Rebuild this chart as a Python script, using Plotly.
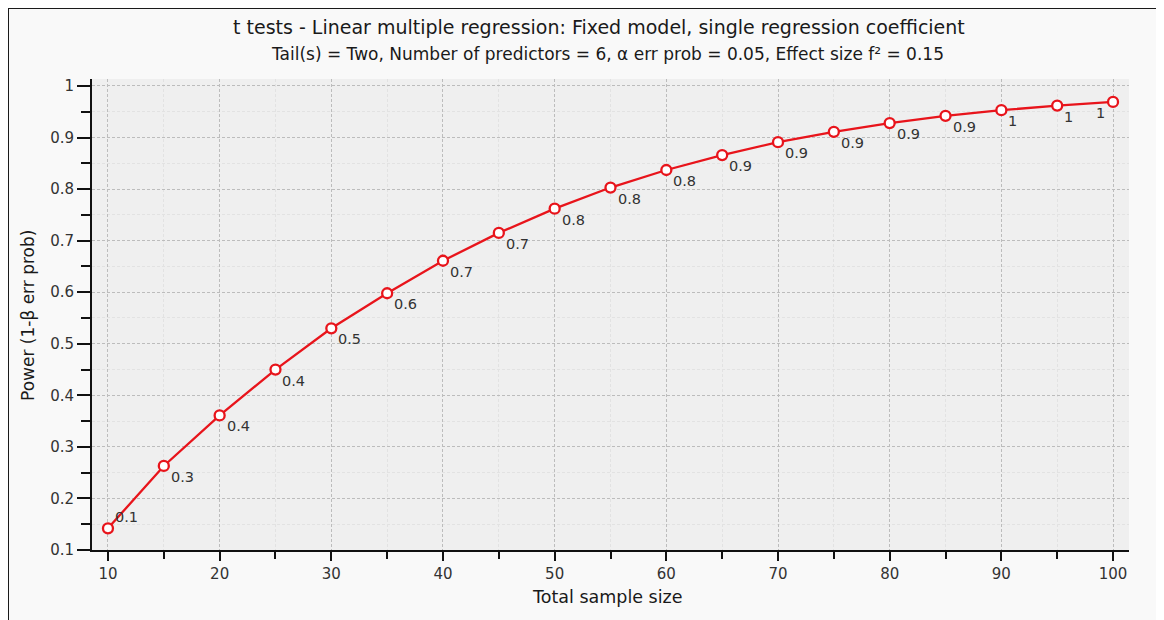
import plotly.graph_objects as go

# ---- data ----
sample_size = [10, 15, 20, 25, 30, 35, 40, 45, 50, 55, 60, 65, 70, 75, 80, 85, 90, 95, 100]
power = [0.142, 0.263, 0.361, 0.450, 0.530, 0.598, 0.661, 0.715, 0.762, 0.803,
         0.837, 0.866, 0.891, 0.911, 0.928, 0.942, 0.953, 0.962, 0.969]
point_labels = ["0.1", "0.3", "0.4", "0.4", "0.5", "0.6", "0.7", "0.7", "0.8", "0.8",
                "0.8", "0.9", "0.9", "0.9", "0.9", "0.9", "1", "1", "1"]
x_tick_vals = [10, 20, 30, 40, 50, 60, 70, 80, 90, 100]
x_tick_text = ["10", "20", "30", "40", "50", "60", "70", "80", "90", "100"]
y_tick_vals = [0.1, 0.2, 0.3, 0.4, 0.5, 0.6, 0.7, 0.8, 0.9, 1.0]
y_tick_text = ["0.1", "0.2", "0.3", "0.4", "0.5", "0.6", "0.7", "0.8", "0.9", "1"]

title_text = "t tests - Linear multiple regression: Fixed model, single regression coefficient"
subtitle_text = "Tail(s) = Two, Number of predictors = 6, α err prob = 0.05, Effect size f² = 0.15"

RED = "#e8141b"
FONT = "DejaVu Sans"
OFF = 8  # page body margin
W, H = 1164 - OFF, 620 - OFF
PL, PR, PT, PB = 92, 1129, 79, 550  # plot area in page pixels
ML, MT = PL - OFF, PT - OFF
MR, MB = W - (PR - OFF), H - (PB - OFF)
PW = W - ML - MR
PH = H - MT - MB

fig = go.Figure()
fig.add_trace(go.Scatter(
    x=sample_size, y=power, mode="lines+markers",
    line=dict(color=RED, width=2.3),
    marker=dict(symbol="circle", size=10, color="white", line=dict(color=RED, width=2.3)),
    hoverinfo="x+y", showlegend=False,
))

n = len(sample_size)
for i, (xv, yv, lab) in enumerate(zip(sample_size, power, point_labels)):
    if i == 0:
        xa, ya, xs, ys = "left", "middle", 5, 11
    elif i == n - 1:
        xa, ya, xs, ys = "right", "middle", -6, -11
    else:
        xa, ya, xs, ys = "left", "middle", 5, -11
    fig.add_annotation(x=xv, y=yv, text=lab, showarrow=False, xanchor=xa, yanchor=ya,
                       xshift=xs, yshift=ys, font=dict(family=FONT, size=14.5, color="#333333"))

def px_x(p):
    return (p - OFF - ML) / PW

def px_y(p):
    return 1 - (p - OFF - MT) / PH

# titles
fig.add_annotation(xref="paper", yref="paper", x=px_x(599), y=px_y(27), text=title_text,
                   showarrow=False, xanchor="center", yanchor="middle",
                   font=dict(family=FONT, size=19, color="#1a1a1a"))
fig.add_annotation(xref="paper", yref="paper", x=px_x(607), y=px_y(54), text=subtitle_text,
                   showarrow=False, xanchor="center", yanchor="middle",
                   font=dict(family=FONT, size=17, color="#1a1a1a"))
fig.add_annotation(xref="paper", yref="paper", x=px_x(607), y=px_y(597), text="Total sample size",
                   showarrow=False, xanchor="center", yanchor="middle",
                   font=dict(family=FONT, size=17.5, color="#1a1a1a"))
fig.add_annotation(xref="paper", yref="paper", x=px_x(28), y=px_y(316), text="Power (1-β err prob)",
                   showarrow=False, xanchor="center", yanchor="middle", textangle=-90,
                   font=dict(family=FONT, size=17, color="#1a1a1a"))

# outer frame
fig.add_shape(type="rect", xref="paper", yref="paper",
              x0=px_x(8), x1=px_x(1200), y0=px_y(660), y1=px_y(8),
              line=dict(color="#1a1a1a", width=2), fillcolor="rgba(0,0,0,0)", layer="below")

fig.update_layout(
    width=W, height=H,
    margin=dict(l=ML, r=MR, t=MT, b=MB),
    paper_bgcolor="#f9f9f9", plot_bgcolor="#efefef",
    font=dict(family=FONT, size=15, color="#333333"),
    xaxis=dict(
        range=[8.57, 101.43], tickvals=x_tick_vals, ticktext=x_tick_text,
        showline=True, linecolor="#111111", linewidth=2, mirror=False,
        ticks="outside", ticklen=9, tickwidth=2, tickcolor="#111111",
        showgrid=True, gridcolor="#bcbcbc", griddash="3px,2px", gridwidth=1,
        zeroline=False,
        minor=dict(tick0=5, dtick=10, ticks="outside", ticklen=7, tickwidth=2, tickcolor="#111111",
                   showgrid=True, gridcolor="#e2e2e2", gridwidth=1),
        tickfont=dict(family=FONT, size=15, color="#333333"),
    ),
    yaxis=dict(
        range=[0.1, 1.0135], tickvals=y_tick_vals, ticktext=y_tick_text,
        showline=True, linecolor="#111111", linewidth=2, mirror=False,
        ticks="outside", ticklen=13, tickwidth=2, tickcolor="#111111",
        showgrid=True, gridcolor="#bcbcbc", griddash="3px,2px", gridwidth=1,
        zeroline=False,
        minor=dict(tick0=0.15, dtick=0.1, ticks="outside", ticklen=9, tickwidth=2, tickcolor="#111111",
                   showgrid=True, gridcolor="#e2e2e2", gridwidth=1),
        tickfont=dict(family=FONT, size=15, color="#333333"),
    ),
)

fig.write_html("out.html")
